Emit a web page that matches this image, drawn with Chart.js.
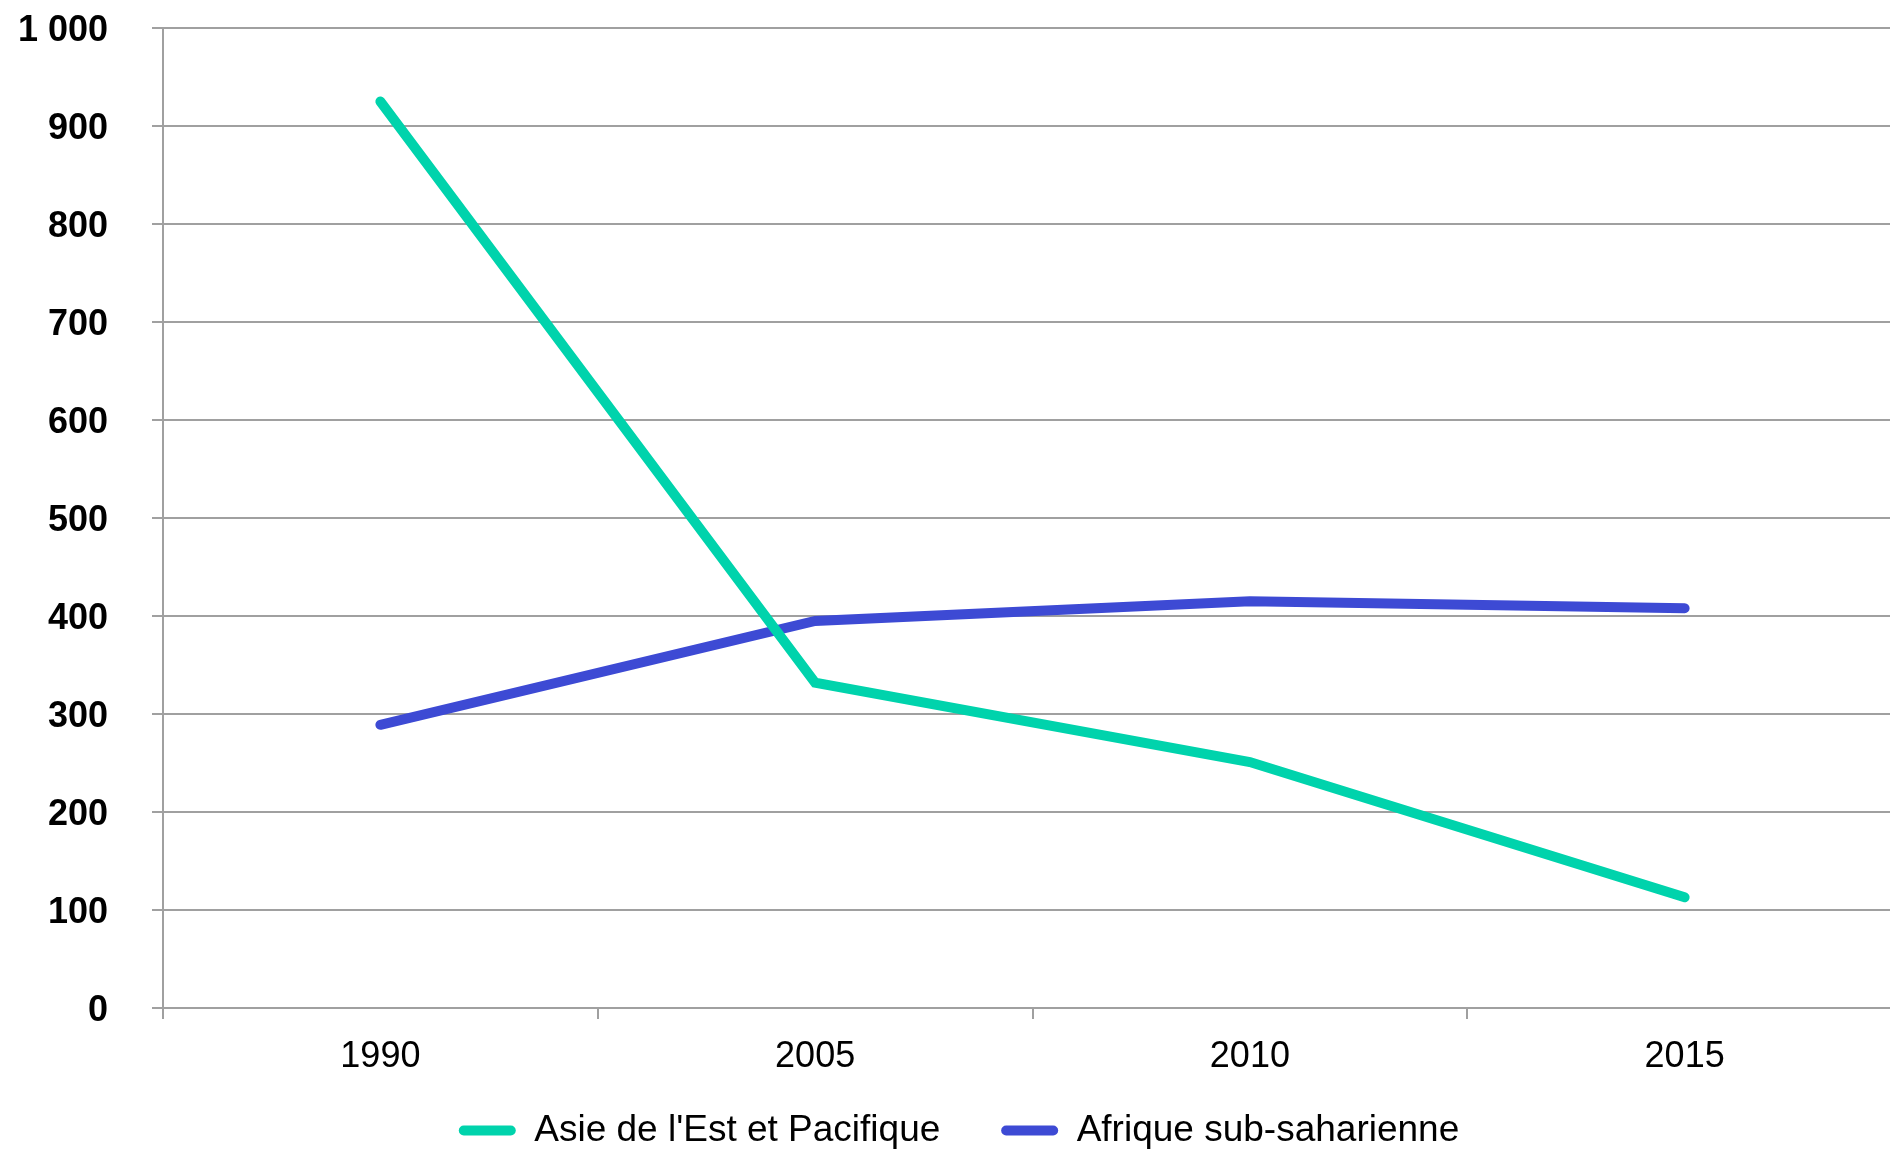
<!DOCTYPE html>
<html>
<head>
<meta charset="utf-8">
<script src="https://cdn.jsdelivr.net/npm/chart.js@4.4.1/dist/chart.umd.min.js"></script>
<style>
  html, body { margin: 0; padding: 0; background: #fff; overflow: hidden; }
  /* the plot runs a little past the right edge in the original */
  #wrap { width: 1902px; height: 1149px; position: relative; }
</style>
</head>
<body>
<div id="wrap"><canvas id="chart"></canvas></div>
<script>
const years = ["1990", "2005", "2010", "2015"];
const asieEstPacifique = [925, 332, 251, 113];
const afriqueSubSaharienne = [289, 395, 415, 408];
const yMin = 0;
const yMax = 1000;
const yStep = 100;

const FONT = "'Liberation Sans', Arial, sans-serif";
const GRID = "#a0a0a0";

// "1000" -> "1 000"
const fmt = v => String(v).replace(/\B(?=(\d{3})+(?!\d))/g, " ");

const ctx = document.getElementById("chart").getContext("2d");

new Chart(ctx, {
  type: "line",
  data: {
    labels: years,
    datasets: [
      {
        label: "Asie de l'Est et Pacifique",
        data: asieEstPacifique,
        borderColor: "#00d3ac",
        backgroundColor: "#00d3ac",
        borderWidth: 10,
        borderCapStyle: "round",
        pointRadius: 0,
        tension: 0
      },
      {
        label: "Afrique sub-saharienne",
        data: afriqueSubSaharienne,
        borderColor: "#3d4ad4",
        backgroundColor: "#3d4ad4",
        borderWidth: 10,
        borderCapStyle: "round",
        pointRadius: 0,
        tension: 0
      }
    ]
  },
  options: {
    responsive: true,
    maintainAspectRatio: false,
    animation: false,
    layout: { autoPadding: false, padding: { top: 28, left: 16, right: 0, bottom: -10 } },
    scales: {
      x: {
        offset: true,
        grid: { offset: true, drawOnChartArea: false, color: GRID, lineWidth: 2, tickLength: 11 },
        border: { color: GRID, width: 2 },
        ticks: { color: "#000", font: { family: FONT, size: 36 }, padding: 16, maxRotation: 0, autoSkip: false },
        afterFit: s => {
          s.height = 74;
          s.paddingLeft = 0;
          s.paddingRight = 0;
        }
      },
      y: {
        min: yMin,
        max: yMax,
        ticks: {
          stepSize: yStep,
          color: "#000",
          font: { family: FONT, size: 36, weight: "bold" },
          padding: 44,
          labelOffset: 3,
          callback: v => fmt(v)
        },
        grid: { color: GRID, lineWidth: 2, tickLength: 11 },
        border: { color: GRID, width: 2 },
        afterFit: s => {
          s.width = 147;
          // keep the label padding from pushing the plot area down
          s.paddingTop = 0;
          s.paddingBottom = 0;
        }
      }
    },
    plugins: {
      tooltip: { enabled: false },
      legend: {
        position: "bottom",
        labels: {
          color: "#000",
          font: { family: FONT, size: 37 },
          boxWidth: 57,
          boxHeight: 10,
          useBorderRadius: true,
          borderRadius: 5,
          padding: 30,
          // wider gap after the first item, as in the original
          generateLabels: chart =>
            Chart.defaults.plugins.legend.labels.generateLabels(chart).map((l, i) => ({
              ...l,
              text: i === 0 ? l.text + "\u00a0\u00a0\u00a0" : l.text,
              lineWidth: 0,
              fillStyle: l.strokeStyle
            }))
        }
      }
    }
  }
});
</script>
</body>
</html>
